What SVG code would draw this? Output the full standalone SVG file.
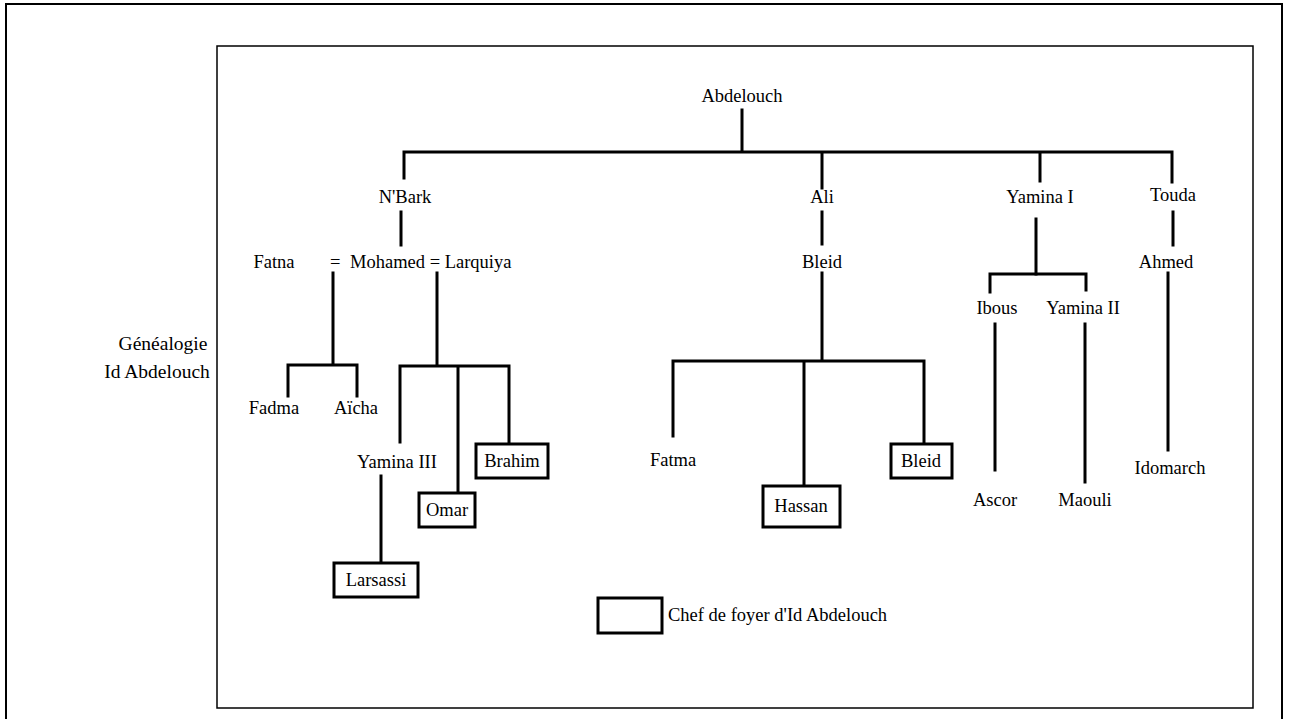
<svg xmlns="http://www.w3.org/2000/svg" width="1289" height="719" viewBox="0 0 1289 719" font-family="'Liberation Serif','Times New Roman',serif">
<style>
text{font-family:"Liberation Serif","Times New Roman",serif;fill:#000}
.l{font-size:18.5px;text-anchor:middle}
.s{font-size:18.5px}
.t{font-size:19.5px;text-anchor:middle}
.c{stroke:#000;stroke-width:3;fill:none;stroke-linecap:square}
.b{stroke:#000;stroke-width:3;fill:#fff}
.f{stroke:#000;fill:none}
</style>
<rect width="1289" height="719" fill="#fff"/>
<g id="frame">
<path class="f" stroke-width="2" d="M6,719 V4 H1282 V719"/>
<rect class="f" stroke-width="1.5" x="217" y="46" width="1036" height="662"/>
</g>
<g id="title"><text class="t" x="163" y="350">Généalogie</text><text class="t" x="157" y="378">Id Abdelouch</text></g>
<g id="connectors">
<path class="c" d="M742,110V152M404,152H1172M404,152V178M822,152V188M1040,152V181M1172,152V182"/>
<path class="c" d="M401,212V245M822,212V244M1036,219V274M1173,212V245"/>
<path class="c" d="M333,273V365M288,365H357M288,365V396M357,365V396"/>
<path class="c" d="M437,273V366M400,366H509M400,366V442M458,366V493M509,366V444"/>
<path class="c" d="M381,476V563"/>
<path class="c" d="M822,273V361M673,361H924M673,361V436M804,361V486M924,361V444"/>
<path class="c" d="M990,274H1086M990,274V292M1086,274V290"/>
<path class="c" d="M995,324V470M1085,324V482M1168,273V450"/>
</g>
<g id="n-abdelouch"><text class="l" x="742" y="102">Abdelouch</text></g>
<g id="n-nbark"><text class="l" x="405" y="203">N'Bark</text></g>
<g id="n-ali"><text class="l" x="822" y="203">Ali</text></g>
<g id="n-yamina1"><text class="l" x="1040" y="203">Yamina I</text></g>
<g id="n-touda"><text class="l" x="1173" y="201">Touda</text></g>
<g id="n-fatna"><text class="l" x="274" y="268">Fatna</text></g>
<g id="n-mohamed"><text class="s" x="330" y="268">=</text><text class="s" x="350" y="268">Mohamed = Larquiya</text></g>
<g id="n-bleid1"><text class="l" x="822" y="268">Bleid</text></g>
<g id="n-ahmed"><text class="l" x="1166" y="268">Ahmed</text></g>
<g id="n-ibous"><text class="l" x="997" y="314">Ibous</text></g>
<g id="n-yamina2"><text class="l" x="1083" y="314">Yamina II</text></g>
<g id="n-fadma"><text class="l" x="274" y="414">Fadma</text></g>
<g id="n-aicha"><text class="l" x="356" y="414">Aïcha</text></g>
<g id="n-yamina3"><text class="l" x="397" y="468">Yamina III</text></g>
<g id="n-brahim"><rect class="b" x="476" y="444" width="72" height="34"/><text class="l" x="512" y="467">Brahim</text></g>
<g id="n-omar"><rect class="b" x="419" y="493" width="56" height="34"/><text class="l" x="447" y="516">Omar</text></g>
<g id="n-larsassi"><rect class="b" x="334" y="563" width="84" height="34"/><text class="l" x="376" y="586">Larsassi</text></g>
<g id="n-fatma"><text class="l" x="673" y="466">Fatma</text></g>
<g id="n-hassan"><rect class="b" x="763" y="486" width="77" height="41"/><text class="l" x="801" y="512">Hassan</text></g>
<g id="n-bleid2"><rect class="b" x="891" y="444" width="61" height="34"/><text class="l" x="921" y="467">Bleid</text></g>
<g id="n-ascor"><text class="l" x="995" y="506">Ascor</text></g>
<g id="n-maouli"><text class="l" x="1085" y="506">Maouli</text></g>
<g id="n-idomarch"><text class="l" x="1170" y="474">Idomarch</text></g>
<g id="legend"><rect class="b" x="598" y="598" width="64" height="35"/><text class="s" x="668" y="621">Chef de foyer d'Id Abdelouch</text></g>
</svg>
